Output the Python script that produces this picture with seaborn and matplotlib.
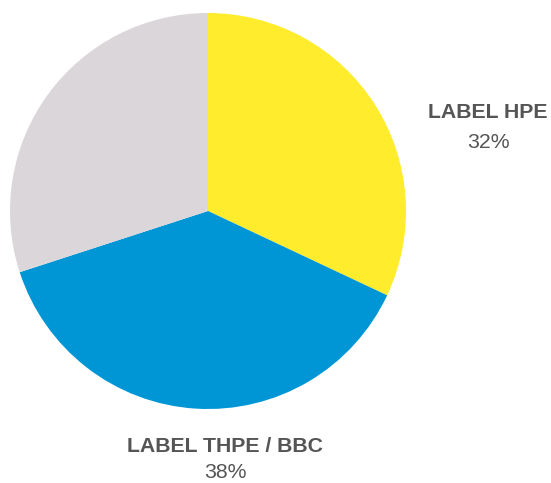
import matplotlib
matplotlib.use("Agg")
import matplotlib.pyplot as plt
import seaborn as sns

# Share of each segment (percent)
segments = ["LABEL HPE", "LABEL THPE / BBC", "Other"]
shares = [32, 38, 30]
colors = ["#FFEC2D", "#0096D6", "#DBD6DA"]
show_label = [True, True, False]

sns.set_theme(style="white")
plt.rcParams["font.family"] = ["Liberation Sans", "DejaVu Sans"]

W, H = 551, 483
fig = plt.figure(figsize=(W / 100, H / 100), dpi=100)
fig.patch.set_facecolor("white")

# Pie occupies a square region on the left of the canvas
cx, cy, r = 208, 211, 198
ax = fig.add_axes([(cx - r) / W, (H - cy - r) / H, 2 * r / W, 2 * r / H])
ax.pie(shares, colors=colors, startangle=90, counterclock=False,
       radius=1.0, wedgeprops=dict(linewidth=0))
ax.set_xlim(-1, 1)
ax.set_ylim(-1, 1)
ax.set_aspect("equal")
ax.axis("off")

# Label anchors in pixel space (name line centre, value line centre)
label_pos = {
    "LABEL HPE": (488, 113, 142),
    "LABEL THPE / BBC": (225, 446, 473),
}
text_color = "#555555"
for name, share, show in zip(segments, shares, show_label):
    if not show:
        continue
    x, y_name, y_val = label_pos[name]
    fig.text(x / W, 1 - y_name / H, name, ha="center", va="center",
             fontsize=15.3, fontweight="bold", color=text_color)
    fig.text(x / W, 1 - y_val / H, f"{share}%", ha="center", va="center",
             fontsize=15.3, color=text_color)

fig.savefig("out.png", dpi=100, facecolor="white")
